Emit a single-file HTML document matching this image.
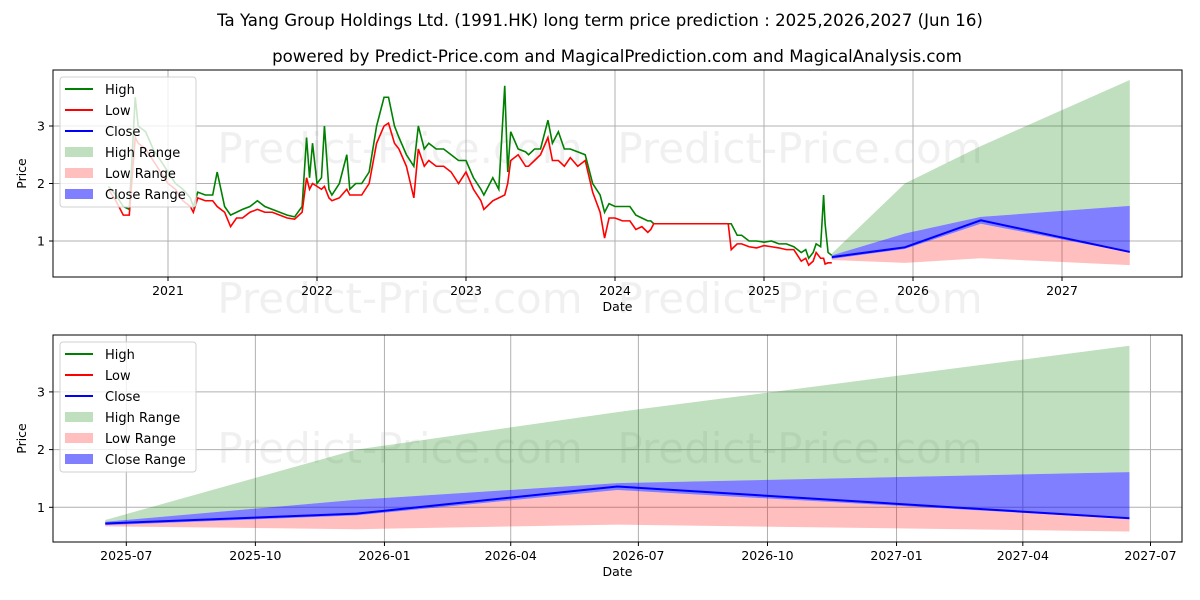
<!DOCTYPE html>
<html><head><meta charset="utf-8"><style>
body{margin:0;background:#fff;}
svg{display:block;font-family:"DejaVu Sans","Liberation Sans",sans-serif;}
</style></head><body>
<svg id="chart" width="1200" height="600" viewBox="0 0 1200 600">
<text x="600" y="26" text-anchor="middle" font-size="16.6">Ta Yang Group Holdings Ltd. (1991.HK) long term price prediction : 2025,2026,2027 (Jun 16)</text>
<text x="617" y="62" text-anchor="middle" font-size="16.6">powered by Predict-Price.com and MagicalPrediction.com and MagicalAnalysis.com</text>
<g id="top"></g>
<g id="bot"></g>
</svg>
<script>
// historical data (decimal years)
const histYears=[2020.6,2020.65,2020.7,2020.74,2020.78,2020.8,2020.85,2020.9,2020.95,2021.0,2021.05,2021.1,2021.15,2021.17,2021.2,2021.25,2021.3,2021.33,2021.38,2021.42,2021.46,2021.5,2021.55,2021.6,2021.65,2021.7,2021.75,2021.8,2021.85,2021.9,2021.93,2021.95,2021.97,2022.0,2022.03,2022.05,2022.08,2022.1,2022.15,2022.2,2022.22,2022.26,2022.3,2022.35,2022.4,2022.45,2022.48,2022.52,2022.55,2022.6,2022.65,2022.68,2022.72,2022.75,2022.8,2022.85,2022.9,2022.95,2023.0,2023.05,2023.1,2023.12,2023.18,2023.22,2023.26,2023.28,2023.3,2023.35,2023.4,2023.42,2023.46,2023.5,2023.55,2023.58,2023.62,2023.66,2023.7,2023.75,2023.8,2023.85,2023.9,2023.93,2023.96,2024.0,2024.05,2024.1,2024.14,2024.18,2024.22,2024.24,2024.26,2024.76,2024.78,2024.82,2024.85,2024.9,2024.95,2025.0,2025.05,2025.1,2025.15,2025.2,2025.25,2025.28,2025.3,2025.33,2025.35,2025.38,2025.4,2025.41,2025.43,2025.455];
const histHigh=[1.95,1.8,1.6,1.55,3.5,3.0,2.9,2.6,2.4,2.2,2.0,1.9,1.75,1.6,1.85,1.8,1.8,2.2,1.6,1.45,1.5,1.55,1.6,1.7,1.6,1.55,1.5,1.45,1.42,1.6,2.8,2.1,2.7,2.0,2.1,3.0,1.9,1.8,2.0,2.5,1.9,2.0,2.0,2.2,3.0,3.5,3.5,3.0,2.8,2.5,2.3,3.0,2.6,2.7,2.6,2.6,2.5,2.4,2.4,2.1,1.9,1.8,2.1,1.9,3.7,2.2,2.9,2.6,2.55,2.5,2.6,2.6,3.1,2.7,2.9,2.6,2.6,2.55,2.5,2.0,1.8,1.5,1.65,1.6,1.6,1.6,1.45,1.4,1.35,1.35,1.3,1.3,1.3,1.1,1.1,1.0,1.0,0.98,1.0,0.95,0.95,0.9,0.8,0.85,0.7,0.8,0.95,0.9,1.8,1.3,0.8,0.75];
const histLow=[1.9,1.7,1.45,1.45,2.8,2.7,2.6,2.4,2.2,2.0,1.9,1.7,1.6,1.5,1.75,1.7,1.7,1.6,1.5,1.25,1.4,1.4,1.5,1.55,1.5,1.5,1.45,1.4,1.38,1.5,2.1,1.9,2.0,1.95,1.9,1.95,1.75,1.7,1.75,1.9,1.8,1.8,1.8,2.0,2.7,3.0,3.05,2.7,2.6,2.3,1.75,2.6,2.3,2.4,2.3,2.3,2.2,2.0,2.2,1.9,1.7,1.55,1.7,1.75,1.8,2.0,2.4,2.5,2.3,2.3,2.4,2.5,2.8,2.4,2.4,2.3,2.45,2.3,2.4,1.85,1.5,1.05,1.4,1.4,1.35,1.35,1.2,1.25,1.15,1.2,1.3,1.3,0.85,0.95,0.95,0.9,0.88,0.92,0.9,0.88,0.85,0.85,0.65,0.7,0.58,0.65,0.8,0.7,0.7,0.6,0.62,0.62];
// forecast data
const fcDates=["2025-06-16","2025-12-12","2026-06-16","2027-06-16"];
const fcClose=[0.72,0.89,1.36,0.81];
const fcHighTop=[0.78,2.0,2.65,3.8];
const fcCloseTop=[0.75,1.13,1.42,1.61];
const fcCloseBot=[0.69,0.86,1.3,0.8];
const fcLowBot=[0.67,0.62,0.7,0.58];
const topTicks=["2021","2022","2023","2024","2025","2026","2027"];
const botTicks=["2025-07","2025-10","2026-01","2026-04","2026-07","2026-10","2027-01","2027-04","2027-07"];
const yTicks=[1,2,3];

const NS="http://www.w3.org/2000/svg";
function mk(parent,tag,attrs,text){const e=document.createElementNS(NS,tag);for(const k in attrs)e.setAttribute(k,attrs[k]);if(text!==undefined)e.textContent=text;parent.appendChild(e);return e;}
const DAY=86400000;
function ms(s){return Date.parse(s+"T00:00:00Z");}
function decYear(s){const d=new Date(ms(s));const y=d.getUTCFullYear();const a=Date.UTC(y,0,1),b=Date.UTC(y+1,0,1);return y+(ms(s)-a)/(b-a);}

function panel(g,cfg){
  const {L,R,T,B,y1,yPer,xOf,ticks,tickX,showHist}=cfg;
  const yOf=v=>y1-(v-1)*yPer;
  [[400,cfg.wm1],[800,cfg.wm1],[400,cfg.wm2],[800,cfg.wm2]].forEach(([x,y])=>{if(y===null)return;
    const t=mk(g,"text",{x:x,y:y,"text-anchor":"middle","font-size":"42",fill:"#000","fill-opacity":"0.06"},"Predict-Price.com");
    
    });
  ticks.forEach(t=>{const x=tickX(t);
    const l=mk(g,"line",{x1:x,x2:x,y1:T,y2:B,stroke:"#b0b0b0","stroke-width":"1"});
    
    
    mk(g,"line",{x1:x,x2:x,y1:B,y2:B+4,stroke:"#000"});
    const tx=mk(g,"text",{x:x,y:B+18,"text-anchor":"middle","font-size":"12.5"},t);
    
    });
  yTicks.forEach(v=>{const y=yOf(v);
    const l=mk(g,"line",{x1:L,x2:R,y1:y,y2:y,stroke:"#b0b0b0","stroke-width":"1"});
    
    
    mk(g,"line",{x1:L-4,x2:L,y1:y,y2:y,stroke:"#000"});
    const tx=mk(g,"text",{x:L-8,y:y+4.5,"text-anchor":"end","font-size":"12.5"},String(v));
    
    });
  const fx=fcDates.map(xOf);
  function band(top,bot,fill,op,name){
    let d="M"+fx.map((x,i)=>x+","+yOf(top[i])).join("L");
    for(let i=fx.length-1;i>=0;i--)d+="L"+fx[i]+","+yOf(bot[i]);
    const p=mk(g,"path",{d:d+"Z",fill:fill,"fill-opacity":op});
    
    }
  band(fcHighTop,fcCloseTop,"#008000","0.25","high-range-area");
  band(fcCloseBot,fcLowBot,"#ff0000","0.25","low-range-area");
  band(fcCloseTop,fcCloseBot,"#0000ff","0.5","close-range-area");
  if(showHist){
    const hx=histYears.map(cfg.xYear);
    const ph=mk(g,"polyline",{points:hx.map((x,i)=>x+","+yOf(histHigh[i])).join(" "),fill:"none",stroke:"#008000","stroke-width":"1.6"});
    
    
    const pl=mk(g,"polyline",{points:hx.map((x,i)=>x+","+yOf(histLow[i])).join(" "),fill:"none",stroke:"#ff0000","stroke-width":"1.6"});
    
    
  }
  const pc=mk(g,"polyline",{points:fx.map((x,i)=>x+","+yOf(fcClose[i])).join(" "),fill:"none",stroke:"#0000ff","stroke-width":"2"});
  
  
  const fr=mk(g,"rect",{x:L,y:T,width:R-L,height:B-T,fill:"none",stroke:"#000","stroke-width":"1"});
  
  
  const xl=mk(g,"text",{x:(L+R)/2,y:B+34,"text-anchor":"middle","font-size":"12.5"},"Date");
  
  
  const yl=mk(g,"text",{x:0,y:0,"text-anchor":"middle","font-size":"12.5",transform:"translate(26,"+((T+B)/2)+") rotate(-90)"},"Price");
  
  
  const lg=mk(g,"g",{});
  
  
  mk(lg,"rect",{x:L+7,y:T+7,width:136,height:130,rx:3,fill:"#fff","fill-opacity":"0.8",stroke:"#d0d0d0"});
  const items=[["High","line","#008000",1],["Low","line","#ff0000",1],["Close","line","#0000ff",1],["High Range","box","#008000",0.25],["Low Range","box","#ff0000",0.25],["Close Range","box","#0000ff",0.5]];
  items.forEach((it,i)=>{const y=T+19+i*21;
    const e=mk(lg,"g",{});
    
    
    if(it[1]==="line")mk(e,"line",{x1:L+12,x2:L+40,y1:y,y2:y,stroke:it[2],"stroke-width":"2"});
    else mk(e,"rect",{x:L+12,y:y-5,width:28,height:10,fill:it[2],"fill-opacity":it[3]});
    mk(e,"text",{x:L+52,y:y+5,"font-size":"13"},it[0]);});
}
const yr2x=y=>168+(y-2021)*149;
panel(document.getElementById("top"),{L:53,R:1182,T:70,B:277,y1:241,yPer:57.5,
  xYear:yr2x,xOf:s=>yr2x(decYear(s)),ticks:topTicks,tickX:t=>yr2x(+t),showHist:true,wm1:163,wm2:313});
const bx=s=>126.3+(ms(s)-ms("2025-07-01"))/DAY*1.403;
panel(document.getElementById("bot"),{L:53,R:1182,T:335,B:542,y1:507.3,yPer:57.7,
  xYear:null,xOf:bx,ticks:botTicks,tickX:t=>bx(t+"-01"),showHist:false,wm1:463,wm2:null});
</script>
</body></html>
